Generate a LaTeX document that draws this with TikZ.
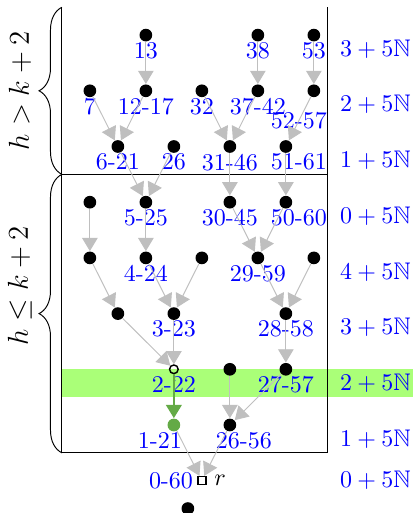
\documentclass[tikz,border=0pt]{standalone}
\usepackage{amsmath}
\usepackage{amssymb}
\usepackage{tikz}
\usetikzlibrary{arrows.meta, decorations.pathreplacing, positioning}

\definecolor{pathgreen}{RGB}{100,170,70}
\definecolor{bandgreen}{RGB}{170,255,120}

\tikzset{
  dot/.style={circle, fill=black, inner sep=0pt, minimum size=5.3pt},
  hole/.style={circle, draw=black, line width=0.6pt, inner sep=0pt, minimum size=3.6pt},
  rootbox/.style={rectangle, draw=black, line width=0.6pt, inner sep=0pt, minimum size=3.4pt},
  lbl/.style={text=blue, inner sep=0pt},
  level/.style={text=blue, inner sep=0pt},
  graylink/.style={draw=gray!50, -{Triangle[length=5.5pt, width=6.5pt]}},
  greenlink/.style={draw=pathgreen, line width=0.8pt, -{Triangle[length=5.5pt, width=6.5pt]}},
}

\begin{document}
\begin{tikzpicture}[x=11.667pt, y=23.21pt]
        \useasboundingbox (-3.21,-8.58) rectangle (11.54,0.63);
        % Band
        \fill[bandgreen] (-1,-6) rectangle (11.54,-6.5);

        % Frame and braces
        \draw (-1,0.5) -- (-1,-7.5) -- (8.5,-7.5) -- (8.5,0.5);
        \draw (-1,-2.5) -- (8.5,-2.5);
        \draw[decorate, decoration={brace, amplitude=9.5pt}] (-1,-2.5) -- (-1,0.5);
        \draw[decorate, decoration={brace, amplitude=9.5pt}] (-1,-7.5) -- (-1,-2.5);
        \node[rotate=90, font=\large] (high) at (-2.5,-1) {$h > k+2$};
        \node[rotate=90, font=\large] (low) at (-2.5,-4.5) {$h \leq k+2$};

        % Levels
        \node[level] (lv0) at (10.2,-0.25) {$3 + 5\mathbb{N}$};
        \node[level] (lv1) at (10.2,-1.25) {$2 + 5\mathbb{N}$};
        \node[level] (lv2) at (10.2,-2.25) {$1 + 5\mathbb{N}$};
        \node[level] (lv3) at (10.2,-3.25) {$0 + 5\mathbb{N}$};
        \node[level] (lv4) at (10.2,-4.25) {$4 + 5\mathbb{N}$};
        \node[level] (lv5) at (10.2,-5.25) {$3 + 5\mathbb{N}$};
        \node[level] (lv6) at (10.2,-6.25) {$2 + 5\mathbb{N}$};
        \node[level] (lv7) at (10.2,-7.25) {$1 + 5\mathbb{N}$};
        \node[level] (lv8) at (10.2,-8) {$0 + 5\mathbb{N}$};

        % h > k+2
        \node[dot, label={[lbl]below:13}] (n13) at (2,0) {};
        \node[dot, label={[lbl]below:38}] (n38) at (6,0) {};
        \node[dot, label={[lbl]below:53}] (n53) at (8,0) {};
        \node[dot, label={[lbl]below:7}] (n7) at (0,-1) {};
        \node[dot, label={[lbl]below:12-17}] (n1217) at (2,-1) {};
        \node[dot, label={[lbl]below:32}] (n32) at (4,-1) {};
        \node[dot, label={[lbl]below:37-42}] (n3742) at (6,-1) {};
        \node[dot, label={[lbl, xshift=-6.2pt, yshift=-5.8pt]below:52-57}] (n5257) at (8,-1) {};
        \node[dot, label={[lbl]below:6-21}] (n621) at (1,-2) {};
        \node[dot, label={[lbl]below:26}] (n26) at (3,-2) {};
        \node[dot, label={[lbl]below:31-46}] (n3146) at (5,-2) {};
        \node[dot, label={[lbl, xshift=5.4pt]below:51-61}] (n5161) at (7,-2) {};

        % h <= k+2
        \node[dot] (a3) at (0,-3) {};
        \node[dot, label={[lbl]below:5-25}] (n525) at (2,-3) {};
        \node[dot, label={[lbl]below:30-45}] (n3045) at (5,-3) {};
        \node[dot, label={[lbl, xshift=5.4pt]below:50-60}] (n5060) at (7,-3) {};
        \node[dot] (a4) at (0,-4) {};
        \node[dot, label={[lbl]below:4-24}] (n424) at (2,-4) {};
        \node[dot] (b4) at (4,-4) {};
        \node[dot, label={[lbl]below:29-59}] (n2959) at (6,-4) {};
        \node[dot] (c4) at (8,-4) {};
        \node[dot] (a5) at (1,-5) {};
        \node[dot, label={[lbl]below:3-23}] (n323) at (3,-5) {};
        \node[dot, label={[lbl]below:28-58}] (n2858) at (7,-5) {};
        \node[hole, label={[lbl, yshift=-0.5pt]below:2-22}] (n222) at (3,-6) {};
        \node[dot] (b6) at (5,-6) {};
        \node[dot, label={[lbl]below:27-57}] (n2757) at (7,-6) {};
        \node[dot, fill=pathgreen, label={[lbl, xshift=-5.8pt]below:1-21}] (n121) at (3,-7) {};
        \node[dot, label={[lbl, xshift=5.8pt]below:26-56}] (n2656) at (5,-7) {};

        % Root
        \node[rootbox, label={[lbl, inner sep=1.5pt]left:0-60}, label={[inner sep=3pt]right:$r$}] (r) at (4,-8) {};
        \node[dot] (tail) at (3.5,-8.5) {};

        % Arcs
        \foreach \a/\b in {n13/n1217, n38/n3742, n53/n5257, n7/n621, n1217/n621,
                n32/n3146, n3742/n3146, n5257/n5161, n621/n525, n26/n525,
                n3146/n3045, n5161/n5060, a3/a4, n525/n424, n3045/n2959,
                n5060/n2959, a4/a5, n424/n323, b4/n323, n2959/n2858, c4/n2858,
                a5/n222, n323/n222, n2858/n2757, b6/n2656, n2757/n2656,
                n121/r, n2656/r}
            \draw[graylink] (\a) -- (\b);
        \draw[greenlink] (n222.south) -- (n121);
    \end{tikzpicture}
\end{document}
